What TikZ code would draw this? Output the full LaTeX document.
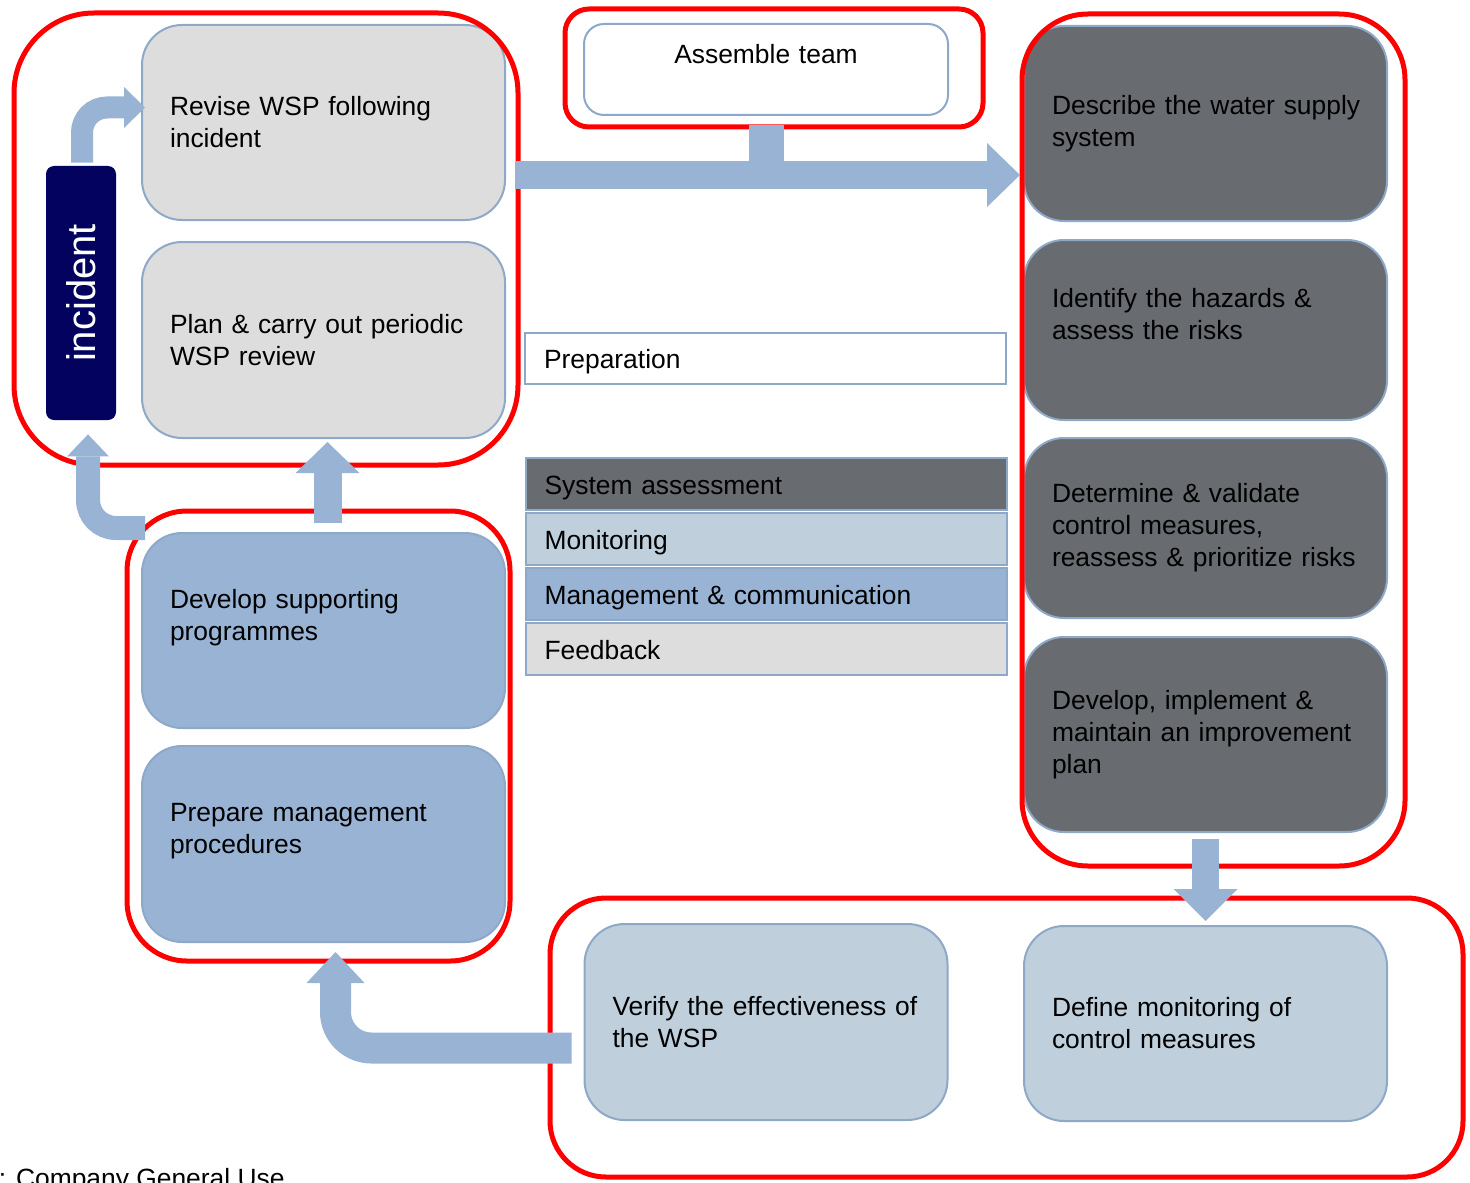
\documentclass[tikz,border=0pt]{standalone}
\usepackage{fontspec}
\setmainfont{Liberation Sans}
\usetikzlibrary{arrows.meta,calc}
\hyphenpenalty=10000
\exhyphenpenalty=10000

\definecolor{lgray}{HTML}{DDDDDD}
\definecolor{dgray}{HTML}{686B70}
\definecolor{sblue}{HTML}{98B3D4}
\definecolor{lblue}{HTML}{BFD0DC}
\definecolor{edge}{HTML}{8EA8C8}
\definecolor{navy}{HTML}{03035F}
\definecolor{frame}{HTML}{FF0000}

\begin{document}
\begin{tikzpicture}[x=0.5pt,y=-0.5pt,
  every node/.style={font=\fontsize{13.2pt}{16pt}\selectfont},
  stage/.style={draw=edge, line width=1pt, rounded corners=20pt,
    inner xsep=14pt, inner ysep=0pt, text width=153.5pt, align=left},
  key/.style={draw=edge, line width=1pt, inner xsep=9.5pt, inner ysep=0pt,
    text width=221.5pt, text height=12pt, text depth=2pt,
    minimum height=26pt, align=left},
  group/.style={draw=frame, line width=2.5pt},
  flow/.style={draw=sblue, line cap=butt},
]
\useasboundingbox (0,0) rectangle (1470,1182);

% feedback stages
\node[stage, fill=lgray, minimum height=97.5pt] (rev)  at (323.5,122.5) {Revise WSP following\\incident};
\node[stage, fill=lgray, minimum height=98pt]   (plan) at (323.5,340)   {Plan \& carry out periodic\\WSP review};
\node[rotate=90, fill=navy, text=white, rounded corners=4pt, inner sep=0pt,
      minimum width=127pt, minimum height=35pt,
      font=\fontsize{20pt}{24pt}\selectfont] (inc) at (81,293) {incident};

% management & communication stages
\node[stage, fill=sblue, minimum height=97.5pt] (dev)  at (323.5,630.5) {Develop supporting\\programmes\\\mbox{}};
\node[stage, fill=sblue, minimum height=98pt]   (prep) at (323.5,844)   {Prepare management\\procedures\\\mbox{}};

% monitoring stages
\node[stage, fill=lblue, minimum height=98pt]   (ver)  at (766,1022)     {\mbox{Verify the effectiveness of}\\the WSP};
\node[stage, fill=lblue, minimum height=97.5pt] (defn) at (1205.5,1023.5) {Define monitoring of\\control measures};

% system assessment stages
\node[stage, fill=dgray, minimum height=97.5pt] (desc)   at (1205.5,123.5) {\mbox{Describe the water supply}\\system};
\node[stage, fill=dgray, minimum height=90pt]   (ident)  at (1205.5,330)   {Identify the hazards \&\\assess the risks\\\mbox{}};
\node[stage, fill=dgray, minimum height=90pt]   (determ) at (1205.5,528)   {Determine \& validate\\control measures,\\\mbox{reassess \& prioritize risks}};
\node[stage, fill=dgray, minimum height=97.5pt] (impl)   at (1205.5,734.5) {Develop, implement \&\\\mbox{maintain an improvement}\\plan};

% preparation
\node[draw=edge, line width=1pt, fill=white, rounded corners=10pt, inner xsep=15pt, inner ysep=0pt,
      text width=152pt, align=center, minimum height=45.5pt] (asm) at (766,69.5) {Assemble team\\\mbox{}};

% key
\node[key, fill=white, minimum height=25.5pt] (kprep) at (765.5,358.5) {Preparation};
\node[key, fill=dgray] (ksys)  at (766,484) {System assessment};
\node[key, fill=lblue] (kmon)  at (766,539) {Monitoring};
\node[key, fill=sblue] (kmgmt) at (766,594) {Management \& communication};
\node[key, fill=lgray] (kfb)   at (766,649) {Feedback};

\node[anchor=base east, inner sep=0pt] (cls) at (285,1187) {Classification: Company General Use};

% phase groupings
\draw[group, rounded corners=40pt]   (14,13)   rectangle (518,465);
\draw[group, rounded corners=12pt]   (565,9)   rectangle (983,127);
\draw[group, rounded corners=33pt]   (1022,14) rectangle (1405,866);
\draw[group, rounded corners=30pt]   (127,511) rectangle (510,961);
\draw[group, rounded corners=28pt]   (550,898) rectangle (1463,1177);

% connectors
\coordinate (incTop)  at ($(inc.east)+(1,-3)$);
\coordinate (revIn)   at ($(rev.west)+(4,-15)$);
\coordinate (devOut)  at ($(dev.north west)+(4,-4)$);
\coordinate (incIn)   at ($(inc.west)+(7,14)$);
\coordinate (bigL)    at ($(rev.east)+(9,52.5)$);
\coordinate (bigR)    at ($(desc.west)+(-3,51.5)$);
\coordinate (verOut)  at ($(ver.west)+(-12,26)$);
\coordinate (prepIn)  at ($(prep.south)+(12,9)$);

\draw[flow, line width=11pt, rounded corners=12.5pt,
      -{Triangle[width=20.5pt,length=10.5pt,line width=0pt]}] (incTop) |- (revIn);
\draw[flow, line width=12pt, rounded corners=14pt,
      -{Triangle[width=21pt,length=11pt,line width=0pt]}] (devOut) -| (incIn);
\draw[flow, line width=14pt,
      -{Triangle[width=32pt,length=15.5pt,line width=0pt]}] ($(dev.north)+(4,-9)$) -- ($(plan.south)+(4,3)$);
\draw[flow, line width=17.5pt] ($(asm.south)+(0,9)$) -- ($(asm.south)+(0,60)$);
\draw[flow, line width=14pt,
      -{Triangle[width=32pt,length=16.5pt,line width=0pt]}] (bigL) -- (bigR);
\draw[flow, line width=13.5pt,
      -{Triangle[width=32pt,length=16pt,line width=0pt]}] ($(impl.south)+(0,6)$) -- ($(defn.north)+(0,-4)$);
\draw[flow, line width=15.5pt, rounded corners=18pt,
      -{Triangle[width=29pt,length=15.5pt,line width=0pt]}] (verOut) -| (prepIn);
\end{tikzpicture}
\end{document}
